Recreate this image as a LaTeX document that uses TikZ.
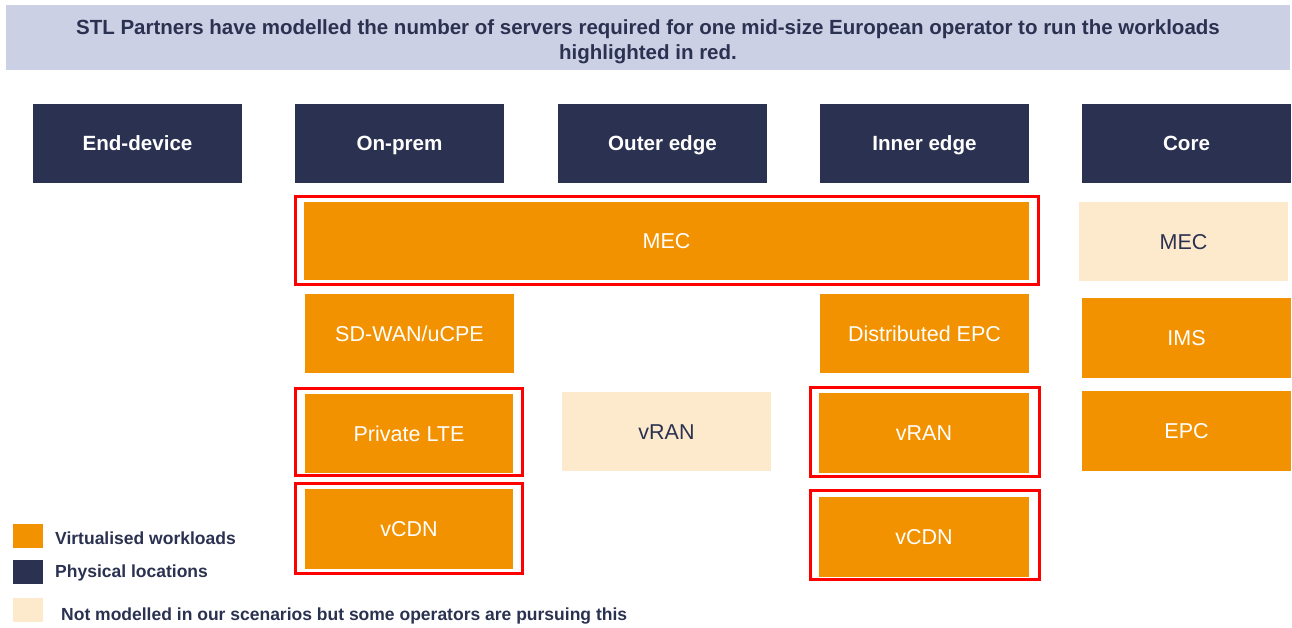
\documentclass[tikz,border=0pt]{standalone}
\usepackage{fontspec}
\setmainfont{Liberation Sans}
\definecolor{navy}{RGB}{43,49,80}
\definecolor{vorange}{RGB}{243,146,0}
\definecolor{peach}{RGB}{253,233,204}
\definecolor{band}{RGB}{204,208,228}
\definecolor{hred}{RGB}{255,0,0}
\tikzset{
  box/.style={rectangle, inner sep=0pt, outer sep=0pt, minimum width=209pt, minimum height=79pt,
              text height=19pt, text depth=4pt, font=\fontsize{21.5}{24}\selectfont, align=center},
  location/.style={box, fill=navy, text=white, text height=18.6pt, font=\bfseries\fontsize{20.6}{24}\selectfont},
  workload/.style={box, fill=vorange, text=white},
  pursued/.style={box, fill=peach, text=navy},
  redframe/.style={rectangle, draw=hred, line width=3pt, inner sep=0pt, outer sep=0pt},
  swatch/.style={rectangle, inner sep=0pt, minimum width=30pt, minimum height=24pt},
  legendtext/.style={anchor=west, inner sep=0pt, text=navy, font=\bfseries\fontsize{17.5}{20}\selectfont}
}
\begin{document}
\begin{tikzpicture}[x=1pt,y=-1pt]
\useasboundingbox (0,0) rectangle (1292,627);
% title band
\fill[band] (6,5) rectangle (1290,70);
\node[inner sep=0pt, text=navy, align=center, font=\bfseries\fontsize{20.5}{25}\selectfont] (title) at (648,42)
  {STL Partners have modelled the number of servers required for one mid-size European operator to run the workloads\\highlighted in red.};
% physical locations
\node[location] (enddev) at (137.5,143.5) {End-device};
\node[location] (onprem) at (399.5,143.5) {On-prem};
\node[location] (outer) at (662.5,143.5) {Outer edge};
\node[location] (inner) at (924.5,143.5) {Inner edge};
\node[location] (core) at (1186.5,143.5) {Core};
% workloads
\node[workload, minimum width=725pt, minimum height=78pt] (mec) at (666.5,241) {MEC};
\node[pursued] (coremec) at (1183.5,241.5) {MEC};
\node[workload, minimum height=80pt] (ims) at (1186.5,338) {IMS};
\node[workload, minimum height=80pt] (epc) at (1186.5,431) {EPC};
\node[workload] (sdwan) at (409.5,333.5) {SD-WAN/uCPE};
\node[workload] (depc) at (924.5,333.5) {Distributed EPC};
\node[workload, minimum width=208pt] (plte) at (409,433.5) {Private LTE};
\node[pursued] (vranout) at (666.5,431.5) {vRAN};
\node[workload, minimum width=210pt, minimum height=80pt] (vranin) at (924,433) {vRAN};
\node[workload, minimum width=208pt, minimum height=80pt] (vcdnon) at (409,529) {vCDN};
\node[workload, minimum width=210pt, minimum height=80pt] (vcdnin) at (924,537) {vCDN};
% red highlight frames around modelled workloads
\node[redframe, minimum width=743pt, minimum height=88pt] (fmec) at (667,240.5) {};
\node[redframe, minimum width=227pt, minimum height=87pt] (fplte) at (409,432) {};
\node[redframe, minimum width=229pt, minimum height=89pt] (fvranin) at (925,432) {};
\node[redframe, minimum width=227pt, minimum height=90pt] (fvcdnon) at (409,528.5) {};
\node[redframe, minimum width=229pt, minimum height=89pt] (fvcdnin) at (925,535) {};
% legend
\node[swatch, fill=vorange] (lgo) at (28,536) {};
\node[swatch, fill=navy] (lgn) at (28,572) {};
\node[swatch, fill=peach] (lgp) at (28,610) {};
\node[legendtext] (lto) at (55,538) {Virtualised workloads};
\node[legendtext] (ltn) at (55,573) {Physical locations};
\node[legendtext] (ltp) at (61,616) {Not modelled in our scenarios but some operators are pursuing this};
\end{tikzpicture}
\end{document}
